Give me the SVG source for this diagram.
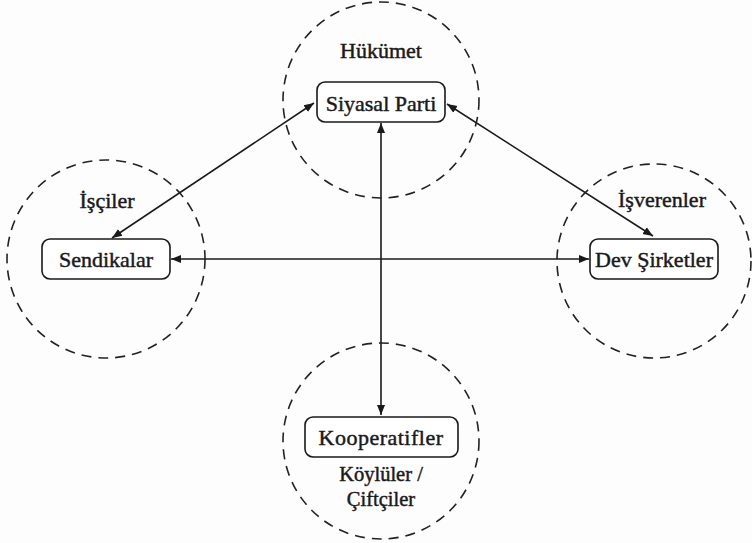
<svg xmlns="http://www.w3.org/2000/svg" width="752" height="543" viewBox="0 0 752 543">
<style>
.circle{fill:none;stroke:#222;stroke-width:1.6;stroke-dasharray:10 7}
.box{fill:#fff;stroke:#1a1a1a;stroke-width:1.6}
text{font-family:'Liberation Serif','DejaVu Serif',serif;fill:#1a1a1a;text-anchor:middle;stroke:#1a1a1a;stroke-width:0.45;font-size:22px}
text.sm{font-size:20.5px}
.conn{stroke:#1a1a1a;stroke-width:1.6;fill:none;marker-start:url(#ah);marker-end:url(#ah)}
</style>
<defs>
<marker id="ah" viewBox="0 0 10 10" refX="10" refY="5" markerWidth="10" markerHeight="10" markerUnits="userSpaceOnUse" orient="auto-start-reverse">
<path d="M0,1 L10,5 L0,9 Z" fill="#1a1a1a"/>
</marker>
</defs>
<rect width="752" height="543" fill="#fdfdfd"/>
<g id="connectors">
<line class="conn" x1="381" y1="123" x2="381" y2="415"/>
<line class="conn" x1="171" y1="259" x2="589" y2="259"/>
<line class="conn" x1="314" y1="103" x2="112" y2="238"/>
<line class="conn" x1="447" y1="104" x2="653" y2="236"/>
</g>
<g id="hukumet">
<circle class="circle" cx="381" cy="100" r="98"/>
<text x="381" y="58">Hükümet</text>
<rect class="box" x="317" y="82" width="128" height="40" rx="8"/>
<text x="381" y="111">Siyasal Parti</text>
</g>
<g id="isciler">
<circle class="circle" cx="106" cy="259" r="99"/>
<text x="107" y="208">İşçiler</text>
<rect class="box" x="42" y="239" width="128" height="40" rx="8"/>
<text x="106" y="267">Sendikalar</text>
</g>
<g id="isverenler">
<circle class="circle" cx="654" cy="261" r="97"/>
<text x="662" y="207">İşverenler</text>
<rect class="box" x="590" y="239" width="128" height="40" rx="8"/>
<text x="654" y="267">Dev Şirketler</text>
</g>
<g id="koyluler">
<circle class="circle" cx="381" cy="441" r="98"/>
<rect class="box" x="305" y="417" width="153" height="40" rx="8"/>
<text x="381" y="445" letter-spacing="0.5">Kooperatifler</text>
<text class="sm" x="381" y="481">Köylüler /</text>
<text class="sm" x="381" y="506">Çiftçiler</text>
</g>
</svg>
